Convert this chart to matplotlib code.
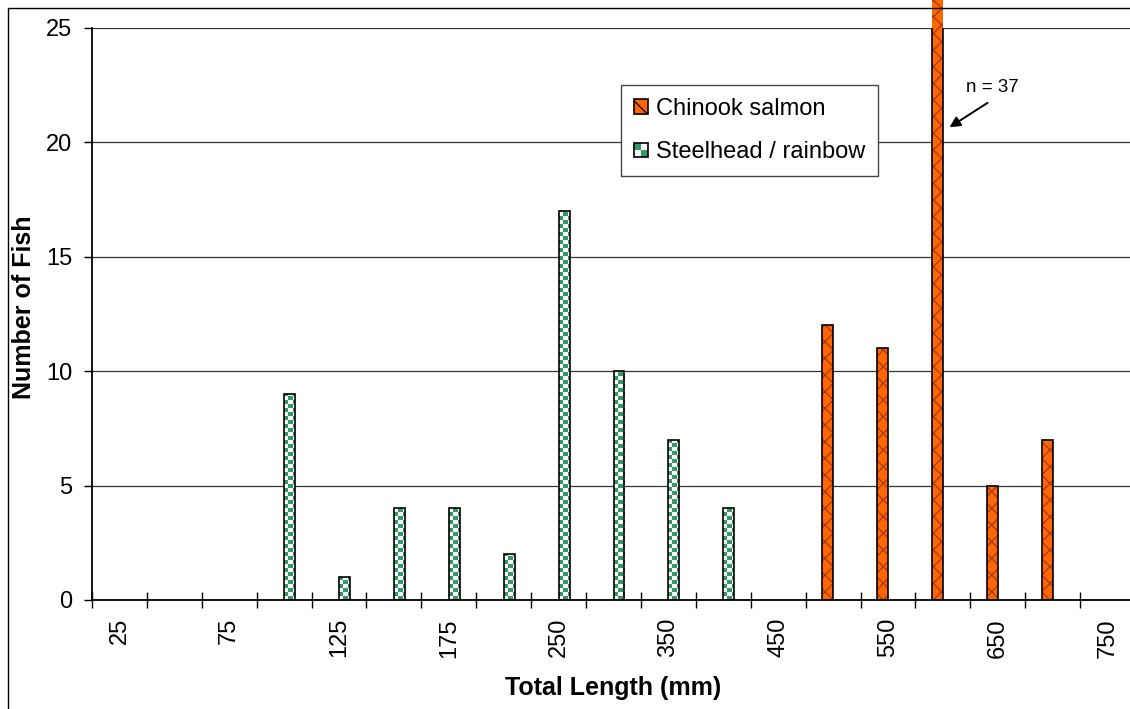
import numpy as np
import matplotlib
matplotlib.use("Agg")
import matplotlib.pyplot as plt
from matplotlib.colors import ListedColormap
from matplotlib.patches import Rectangle, Patch
from matplotlib.legend_handler import HandlerBase

# length classes (mm) and counts per class
lengths = ['25', '50', '75', '100', '125', '150', '175', '200', '250', '300',
           '350', '400', '450', '500', '550', '600', '650', '700', '750']
chinook = [0, 0, 0, 0, 0, 0, 0, 0, 0, 0, 0, 0, 0, 12, 11, 37, 5, 7, 0]
steelhead = [0, 0, 0, 9, 1, 4, 4, 2, 17, 10, 7, 4, 0, 0, 0, 0, 0, 0, 0]
series_names = ['Chinook salmon', 'Steelhead / rainbow']

orange = '#FF6600'
hatch_c = '#a8380f'
green = '#339966'

plt.rcParams['font.family'] = ['Liberation Sans', 'DejaVu Sans']
plt.rcParams['hatch.color'] = hatch_c
plt.rcParams['hatch.linewidth'] = 0.9

fig = plt.figure(figsize=(11.3, 7.09), dpi=100)
ax = fig.add_axes([92 / 1130, 109 / 709, 1043 / 1130, 572 / 709])

x = np.arange(len(lengths))
chin = np.array(chinook)
steel = np.array(steelhead)
w = 0.2

ax.set_xlim(-0.5, len(lengths) - 0.5)
ax.set_ylim(0, 25)

# chinook bars: hatched fill (may run past the top), black outline clipped
mc = chin > 0
ax.bar(x[mc] - w / 2, chin[mc], w, color=orange, edgecolor=hatch_c, hatch='xx',
       linewidth=0, clip_on=False, zorder=2)
ax.bar(x[mc] - w / 2, chin[mc], w, fill=False, edgecolor='black', linewidth=1.2, zorder=3)

# steelhead bars: checkerboard fill
ms = steel > 0
sbars = ax.bar(x[ms] + w / 2, steel[ms], w, color='white', linewidth=0, zorder=2)
p0 = ax.transData.transform((0, 0))
p1 = ax.transData.transform((1, 1))
cx = 4.5 / (p1[0] - p0[0])
cy = 4.0 / (p1[1] - p0[1])
cmap = ListedColormap(['white', green])
for p in sbars.patches:
    nx = int(np.ceil(p.get_width() / cx)) + 1
    ny = int(np.ceil(p.get_height() / cy)) + 1
    img = np.add.outer(np.arange(ny), np.arange(nx)) % 2
    im = ax.imshow(img, extent=(p.get_x(), p.get_x() + nx * cx, 0, ny * cy),
                   origin='lower', interpolation='nearest', aspect='auto',
                   cmap=cmap, vmin=0, vmax=1, zorder=2.5)
    im.set_clip_path(p)
ax.bar(x[ms] + w / 2, steel[ms], w, fill=False, edgecolor='black', linewidth=1.2, zorder=3)

ax.set_xlim(-0.5, len(lengths) - 0.5)
ax.set_ylim(0, 25)
ax.set_aspect('auto')

# axes styling
ax.set_yticks(np.arange(0, 26, 5))
ax.yaxis.grid(True, color='#333333', linewidth=0.9)
ax.set_axisbelow(True)
ax.tick_params(axis='y', direction='out', length=6, width=1, labelsize=17, pad=8)

ax.set_xticks(np.arange(-0.5, len(lengths), 1))
ax.set_xticklabels([])
ax.tick_params(axis='x', which='major', direction='inout', length=11, width=1)
ax.set_xticks(x[::2], labels=lengths[::2], minor=True)
ax.tick_params(axis='x', which='minor', length=0, labelsize=17, pad=13, labelrotation=90)

for s in ['top', 'right']:
    ax.spines[s].set_visible(False)
ax.spines['left'].set_linewidth(1.3)
ax.spines['bottom'].set_linewidth(1.3)

ax.set_ylabel('Number of Fish', fontsize=18, fontweight='bold', va='center')
ax.yaxis.set_label_coords(-0.0652, 0.511)
ax.set_xlabel('Total Length (mm)', fontsize=18, fontweight='bold', va='center')
ax.xaxis.set_label_coords(0.5, -0.154)


class CheckerHandler(HandlerBase):
    def create_artists(self, legend, orig_handle, xdescent, ydescent, width,
                       height, fontsize, trans):
        s = min(width, height)
        x0 = -xdescent + (width - s) / 2
        y0 = -ydescent + (height - s) / 2
        arts = []
        for i in range(2):
            for j in range(2):
                c = green if (i + j) % 2 == 1 else 'white'
                arts.append(Rectangle((x0 + i * s / 2, y0 + j * s / 2), s / 2, s / 2,
                                      facecolor=c, edgecolor='none', transform=trans))
        arts.append(Rectangle((x0, y0), s, s, fill=False, edgecolor='black',
                              linewidth=1.2, transform=trans))
        return arts


h_chin = Patch(facecolor=orange, edgecolor='black', hatch='x', linewidth=1.2)
h_steel = Patch(facecolor=green)
leg = ax.legend([h_chin, h_steel], series_names, loc='upper left',
                bbox_to_anchor=(0.507, 0.9003), borderaxespad=0, fontsize=17,
                handlelength=0.6, handleheight=0.6, handletextpad=0.35,
                labelspacing=0.9, borderpad=0.55, fancybox=False, framealpha=1,
                handler_map={h_steel: CheckerHandler()})
leg.get_frame().set_edgecolor('#444444')
leg.get_frame().set_linewidth(1.0)
leg.set_zorder(5)

# annotation for the off-scale bar
i600 = lengths.index('600')
ax.annotate('', xy=(i600 + 0.12, 20.66), xytext=(i600 + 0.815, 21.73),
            arrowprops=dict(arrowstyle='-|>', color='black', lw=1.4,
                            mutation_scale=16, shrinkA=0, shrinkB=0))
ax.text(i600 + 0.91, 22.4, 'n = %d' % chinook[i600], ha='center', va='center',
        fontsize=13.5)

# outer chart border
fig.patches.append(Rectangle((7.5 / 1130, -0.1), 1.2, (709 - 7.5) / 709 + 0.1,
                             transform=fig.transFigure, fill=False,
                             edgecolor='black', linewidth=1.0))

fig.savefig('out.png', dpi=100)
